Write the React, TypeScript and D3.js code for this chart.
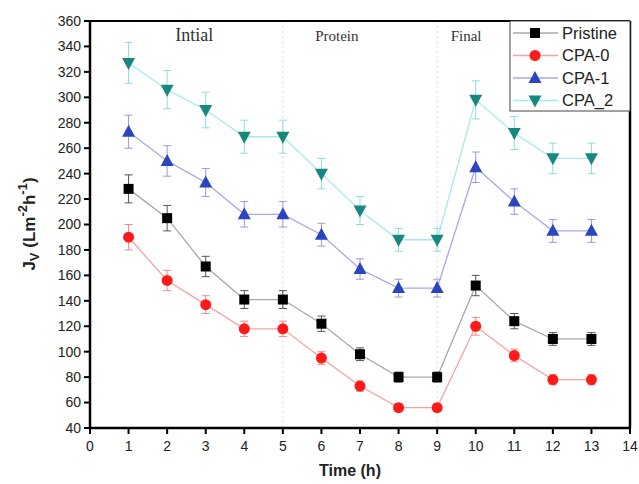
import React from 'react';
import * as d3 from 'd3';

const hours = [1, 2, 3, 4, 5, 6, 7, 8, 9, 10, 11, 12, 13];
const pristine = [228, 205, 167, 141, 141, 122, 98, 80, 80, 152, 124, 110, 110];
const pristineErr = [11, 10, 8, 7, 7, 6, 5, 4, 4, 8, 6, 5, 5];
const cpa0 = [190, 156, 137, 118, 118, 95, 73, 56, 56, 120, 97, 78, 78];
const cpa0Err = [10, 8, 7, 6, 6, 5, 4, 3, 3, 7, 5, 4, 4];
const cpa1 = [273, 250, 233, 208, 208, 192, 165, 150, 150, 245, 218, 195, 195];
const cpa1Err = [13, 12, 11, 10, 10, 9, 8, 7, 7, 12, 10, 9, 9];
const cpa2 = [327, 306, 290, 269, 269, 240, 211, 188, 188, 298, 272, 252, 252];
const cpa2Err = [16, 15, 14, 13, 13, 12, 11, 9, 9, 15, 13, 12, 12];
const xTicks = d3.range(0, 15);
const yTicks = d3.range(40, 361, 20);
const phases = [
  { label: 'Intial', x: 2.7, size: 18 },
  { label: 'Protein', x: 6.4, size: 15 },
  { label: 'Final', x: 9.75, size: 15 },
];
const phaseBreaks = [5, 9];

const series = [
  { name: 'Pristine', values: pristine, err: pristineErr, marker: '#000000', line: '#a8a8a8', errColor: '#555555', shape: 'square' },
  { name: 'CPA-0', values: cpa0, err: cpa0Err, marker: '#ff1a1a', line: '#f5a3a3', errColor: '#f08a8a', shape: 'circle' },
  { name: 'CPA-1', values: cpa1, err: cpa1Err, marker: '#2b45bf', line: '#a8a8e6', errColor: '#9a9ad8', shape: 'up' },
  { name: 'CPA_2', values: cpa2, err: cpa2Err, marker: '#17877f', line: '#a6eaee', errColor: '#8cdde2', shape: 'down' },
];

const W = 639;
const H = 484;
const m = { left: 90, right: 9, top: 21, bottom: 56 };

function Marker({ shape, x, y, color }: { shape: string; x: number; y: number; color: string }) {
  if (shape === 'square') return <rect x={x - 5} y={y - 5} width={10} height={10} fill={color} />;
  if (shape === 'circle') return <circle cx={x} cy={y} r={5.5} fill={color} />;
  if (shape === 'up') return <path d={`M${x},${y - 7}L${x + 6.5},${y + 5}L${x - 6.5},${y + 5}Z`} fill={color} />;
  return <path d={`M${x},${y + 7}L${x + 6.5},${y - 5}L${x - 6.5},${y - 5}Z`} fill={color} />;
}

export default function App() {
  const x = d3.scaleLinear().domain([0, 14]).range([m.left, W - m.right]);
  const y = d3.scaleLinear().domain([40, 360]).range([H - m.bottom, m.top]);
  const line = d3.line<number>().x((_, i) => x(hours[i])).y((d) => y(d));
  const font = 'Arial, "Liberation Sans", sans-serif';
  const x0 = x(0), x1 = x(14), yb = y(40), yt = y(360);

  const lx = 510, ly = 21, lw = x1 - 510, lh = 90;

  return (
    <svg width={W} height={H} style={{ position: 'absolute', left: 0, top: 0, background: '#fff' }}>
      {phaseBreaks.map((b) => (
        <line key={b} x1={x(b)} x2={x(b)} y1={yt} y2={yb} stroke="#d8d8d8" strokeDasharray="2,3" />
      ))}
      {phases.map((p) => (
        <text key={p.label} x={x(p.x)} y={41} textAnchor="middle" fontFamily='"Liberation Serif", "DejaVu Serif", serif' fontSize={p.size} fill="#333">
          {p.label}
        </text>
      ))}
      {series.map((s) => (
        <g key={s.name}>
          <path d={line(s.values) || ''} fill="none" stroke={s.line} strokeWidth={1.3} />
          {s.values.map((v, i) => {
            const cx = x(hours[i]);
            const top = y(v + s.err[i]);
            const bot = y(v - s.err[i]);
            return (
              <g key={i} stroke={s.errColor} strokeWidth={1}>
                <line x1={cx} x2={cx} y1={top} y2={bot} />
                <line x1={cx - 4} x2={cx + 4} y1={top} y2={top} />
                <line x1={cx - 4} x2={cx + 4} y1={bot} y2={bot} />
              </g>
            );
          })}
          {s.values.map((v, i) => (
            <Marker key={i} shape={s.shape} x={x(hours[i])} y={y(v)} color={s.marker} />
          ))}
        </g>
      ))}
      {/* frame */}
      <line x1={x0} x2={x1} y1={yt} y2={yt} stroke="#000" strokeWidth={2} />
      <line x1={x1} x2={x1} y1={yt} y2={yb} stroke="#000" strokeWidth={2.5} />
      <line x1={x0} x2={x0} y1={yt - 1} y2={yb + 1} stroke="#000" strokeWidth={2.5} />
      <line x1={x0 - 1} x2={x1 + 1} y1={yb} y2={yb} stroke="#000" strokeWidth={2.5} />
      {yTicks.map((t) => (
        <g key={t}>
          <line x1={x0 - 6} x2={x0} y1={y(t)} y2={y(t)} stroke="#000" strokeWidth={2} />
          <text x={x0 - 9} y={y(t)} dy="0.35em" textAnchor="end" fontFamily={font} fontSize={14} fill="#222">{t}</text>
        </g>
      ))}
      {xTicks.map((t) => (
        <g key={t}>
          <line x1={x(t)} x2={x(t)} y1={yb} y2={yb + 6} stroke="#000" strokeWidth={2} />
          <text x={x(t)} y={yb + 23} textAnchor="middle" fontFamily={font} fontSize={14} fill="#222">{t}</text>
        </g>
      ))}
      <text x={(x0 + x1) / 2 - 10} y={476} textAnchor="middle" fontFamily={font} fontSize={16} fontWeight="bold" fill="#222">Time (h)</text>
      <text transform="translate(35,224) rotate(-90)" textAnchor="middle" fontFamily={font} fontSize={17} fontWeight="bold" fill="#222">
        J<tspan fontSize={13} dy={4}>V</tspan>
        <tspan dy={-4}> (Lm</tspan>
        <tspan fontSize={13} dy={-8}>-2</tspan>
        <tspan dy={8}>h</tspan>
        <tspan fontSize={13} dy={-8}>-1</tspan>
        <tspan dy={8}>)</tspan>
      </text>
      {/* legend */}
      <rect x={lx} y={ly} width={lw} height={lh} fill="#fff" stroke="#444" strokeWidth={1} />
      {series.map((s, i) => {
        const ry = ly + 12 + i * 22.5;
        return (
          <g key={s.name}>
            <line x1={lx + 3} x2={lx + 48} y1={ry} y2={ry} stroke={s.line} strokeWidth={1.3} />
            <Marker shape={s.shape} x={lx + 25} y={ry} color={s.marker} />
            <text x={lx + 52} y={ry} dy="0.36em" fontFamily={font} fontSize={16.5} fill="#222">{s.name}</text>
          </g>
        );
      })}
    </svg>
  );
}
